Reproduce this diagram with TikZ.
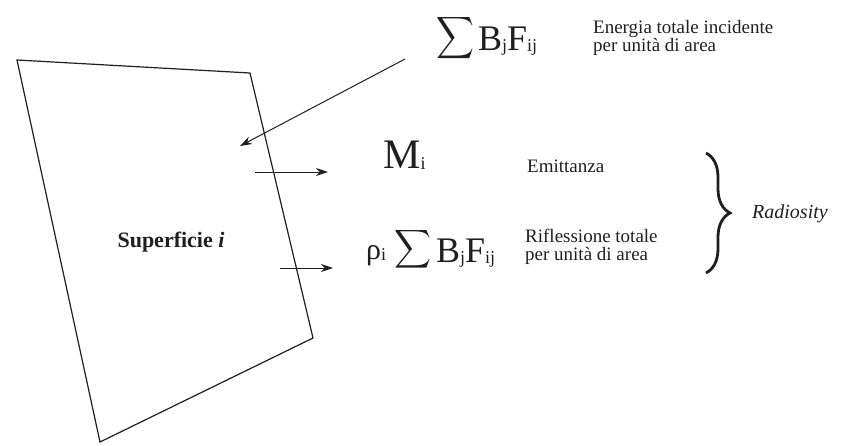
\documentclass[tikz,border=0pt]{standalone}
\usepackage{fontspec}
\setmainfont{Liberation Serif}
\usetikzlibrary{arrows.meta,decorations.pathreplacing}
\newcommand{\subtxt}[1]{\raisebox{-1pt}{\fontsize{18}{18}\selectfont #1}}
\newcommand{\bfij}{B\subtxt{j}F\subtxt{ij}}
\begin{document}
\begin{tikzpicture}[x=1pt,y=-1pt,
  ink/.style={draw=black!88},
  surf/.style={ink, line width=1.2pt, line join=miter},
  arr/.style={ink, line width=1pt, -{Stealth[length=12pt,width=8pt]}},
  label/.style={inner sep=0pt, text=black!88, font=\fontsize{19}{17.5}\selectfont, align=left},
  bigmath/.style={inner sep=0pt, text=black!88, font=\fontsize{36}{36}\selectfont},
  sigma/.style={inner sep=0pt, text=black!88},
  bracestyle/.style={ink, line width=2.8pt, decorate, decoration={brace, amplitude=24pt}}]
\useasboundingbox (0,0) rectangle (855,445);

% surface i
\coordinate (q1) at (17,60);
\coordinate (q2) at (250,73);
\coordinate (q3) at (313,338);
\coordinate (q4) at (100,442);
\draw[surf] (q1) -- (q2) -- (q3) -- (q4) -- cycle;
\node[inner sep=0pt, text=black!88, font=\fontsize{22}{22}\selectfont\bfseries] (surfname) at (171,242) {Superficie \textit{i}};

% incident energy
\node[sigma] (sigA) at (456,38) {\resizebox*{38pt}{47pt}{$\displaystyle\sum$}};
\node[bigmath, anchor=base west] (bfA) at (478,50) {\bfij};
\node[label, anchor=west] (txtA) at (593,38) {Energia totale incidente\\per unità di area};
\coordinate (inStart) at (405,59);
\coordinate (inEnd) at (240,146);
\draw[arr] (inStart) -- (inEnd);

% emittance
\node[inner sep=0pt, text=black!88, font=\fontsize{42}{42}\selectfont, anchor=base west] (Mi) at (383,168) {M\subtxt{i}};
\node[label, anchor=west] (txtM) at (527,166) {Emittanza};
\coordinate (e1s) at (255,172);
\coordinate (e1e) at (328,172);
\draw[arr] (e1s) -- (e1e);

% reflected
\node[inner sep=0pt, text=black!88, font=\fontsize{30}{30}\selectfont, anchor=base west] (rho) at (366,259) {ρ\subtxt{i}};
\node[sigma] (sigB) at (413,249) {\resizebox*{37pt}{43pt}{$\displaystyle\sum$}};
\node[bigmath, anchor=base west] (bfB) at (436,262) {\bfij};
\node[label, anchor=west] (txtR) at (525,247) {Riflessione totale\\per unità di area};
\coordinate (e2s) at (280,268);
\coordinate (e2e) at (333,268);
\draw[arr] (e2s) -- (e2e);

% radiosity brace
\coordinate (brTop) at (706,153);
\coordinate (brBot) at (706,273);
\draw[bracestyle] (brTop) -- (brBot);
\node[label, anchor=west, font=\fontsize{20}{20}\selectfont\itshape] (rad) at (752,214) {Radiosity};
\end{tikzpicture}
\end{document}
